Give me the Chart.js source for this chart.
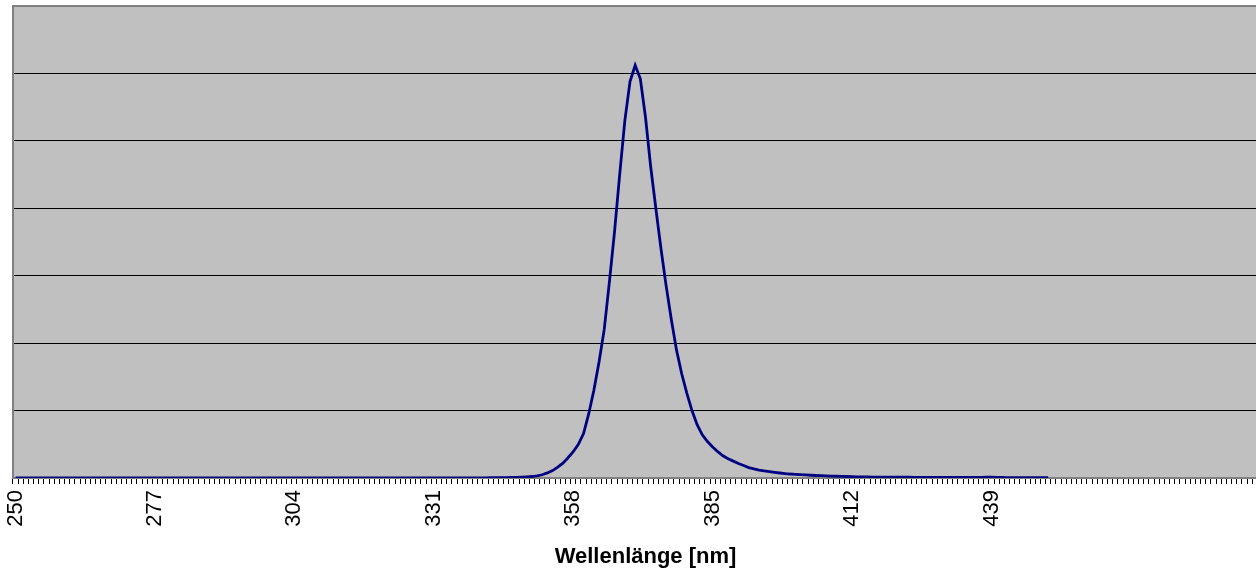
<!DOCTYPE html>
<html>
<head>
<meta charset="utf-8">
<script src="https://cdn.jsdelivr.net/npm/chart.js@4"></script>
<style>
  html, body { margin:0; padding:0; background:#fff; overflow:hidden; }
  #wrap { width:1256px; height:573px; overflow:hidden; }
</style>
</head>
<body>
<div id="wrap"><canvas id="chartSpektrum" width="1282" height="573"></canvas></div>
<script>
// Wellenlängen 250..494 nm (Kategorien), Messwerte nur bis 450 nm
const FIRST_NM = 250, LAST_NM = 494;
const LABEL_STEP = 27;

const wellenlaengen = [];
for (let nm = FIRST_NM; nm <= LAST_NM; nm++) wellenlaengen.push(String(nm));

// 250..339
const werteFlach = [
  0.002,0.002,0.002,0.002,0.002,0.002,0.002,0.002,0.002,0.002,
  0.002,0.002,0.002,0.002,0.002,0.002,0.002,0.002,0.002,0.002,
  0.002,0.002,0.002,0.002,0.002,0.002,0.002,0.002,0.002,0.002,
  0.002,0.002,0.002,0.002,0.002,0.002,0.002,0.002,0.002,0.002,
  0.002,0.002,0.002,0.002,0.002,0.002,0.002,0.002,0.002,0.002,
  0.002,0.002,0.002,0.002,0.002,0.002,0.002,0.002,0.002,0.002,
  0.002,0.002,0.002,0.002,0.002,0.002,0.002,0.002,0.002,0.002,
  0.002,0.002,0.002,0.002,0.002,0.002,0.002,0.002,0.003,0.003,
  0.003,0.003,0.003,0.003,0.003,0.003,0.003,0.003,0.003,0.003
];
// 340..415
const wertePeak = [
  0.003,0.003,0.004,0.004,0.005,0.006,0.008,0.010,0.013,0.017,
  0.022,0.032,0.048,0.075,0.11,0.16,0.22,0.30,0.39,0.50,
  0.66,0.95,1.30,1.72,2.20,2.90,3.65,4.50,5.30,5.88,
  6.12,5.92,5.35,4.62,4.00,3.40,2.85,2.35,1.90,1.55,
  1.26,1.00,0.79,0.64,0.54,0.46,0.39,0.33,0.285,0.25,
  0.215,0.185,0.155,0.135,0.118,0.104,0.093,0.083,0.074,0.066,
  0.059,0.054,0.049,0.045,0.041,0.037,0.034,0.031,0.028,0.026,
  0.024,0.022,0.020,0.018,0.016,0.015
];
// 416..450
const werteAusklang = [
  0.014,0.014,0.013,0.013,0.012,0.012,0.011,0.011,0.010,0.010,
  0.009,0.009,0.009,0.008,0.008,0.008,0.008,0.008,0.009,0.009,
  0.010,0.010,0.011,0.011,0.010,0.008,0.007,0.006,0.006,0.006,
  0.005,0.005,0.005,0.005,0.005
];
const intensitaet = [...werteFlach, ...wertePeak, ...werteAusklang];

const Y_MAX = 7;

const plotFrame = {
  id:'plotFrame',
  beforeDraw(chart){
    const {ctx, chartArea:a} = chart;
    ctx.save();
    ctx.fillStyle = '#c0c0c0';
    ctx.fillRect(a.left, a.top, a.right - a.left, a.bottom - a.top);
    ctx.restore();
  },
  beforeDatasetsDraw(chart){
    const {ctx, chartArea:a} = chart;
    ctx.save();
    ctx.strokeStyle = '#808080';
    ctx.lineWidth = 2;
    ctx.beginPath();
    ctx.moveTo(a.left - 1, a.top);
    ctx.lineTo(a.right + 2, a.top);
    ctx.stroke();
    ctx.restore();
  }
};

new Chart(document.getElementById('chartSpektrum'), {
  type:'line',
  data:{
    labels: wellenlaengen,
    datasets:[{
      data: intensitaet,
      borderColor:'#000080',
      borderWidth:2.8,
      pointRadius:0,
      tension:0,
      fill:false
    }]
  },
  options:{
    responsive:false,
    animation:false,
    layout:{ padding:{ top:6, right:4, left:0, bottom:0 } },
    plugins:{ legend:{ display:false }, tooltip:{ enabled:false } },
    scales:{
      x:{
        offset:true,
        grid:{ display:true, drawOnChartArea:false, drawTicks:true, tickLength:6, offset:true, color:'#000', lineWidth:1 },
        border:{ display:true, color:'#808080', width:2 },
        ticks:{
          autoSkip:false, minRotation:90, maxRotation:90, padding:6, color:'#000',
          font:{ family:'"Liberation Sans", Arial, sans-serif', size:22 },
          callback:(v, i) => (i % LABEL_STEP === 0 && i < intensitaet.length) ? wellenlaengen[i] : ''
        },
        title:{ display:true, text:'Wellenlänge [nm]', color:'#000', padding:{ top:0, bottom:3 },
          font:{ family:'"Liberation Sans", Arial, sans-serif', size:22, weight:'bold' } },
        afterFit:(s) => { s.height = 95; s.paddingLeft = 0; s.paddingRight = 0; }
      },
      y:{
        min:0, max:Y_MAX,
        ticks:{ display:false, stepSize:1 },
        grid:{ drawTicks:false, color:(c) => (c.index === 0 || c.index === Y_MAX) ? 'rgba(0,0,0,0)' : '#000', lineWidth:1 },
        border:{ display:true, color:'#808080', width:2 },
        afterFit:(s) => { s.width = 13; }
      }
    }
  },
  plugins:[plotFrame]
});
</script>
</body>
</html>
